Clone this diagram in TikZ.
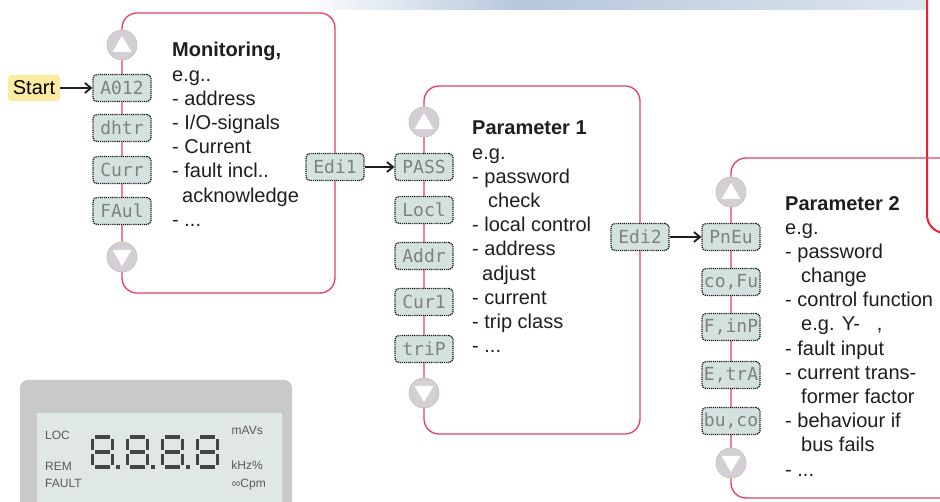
\documentclass[tikz,border=0pt]{standalone}
\usepackage{fontspec}
\setmainfont{Liberation Sans}
\newfontfamily\segfont{DejaVu Sans Mono}
\usetikzlibrary{arrows.meta,calc}

\definecolor{framered}{HTML}{E3415F}
\definecolor{boxred}{HTML}{E52630}
\definecolor{dispfill}{HTML}{D3E2DF}
\definecolor{btnfill}{HTML}{D3CFD4}
\definecolor{startfill}{HTML}{FBECA2}
\definecolor{lcdgray}{HTML}{C9C9C9}
\definecolor{lcdfill}{HTML}{DFE8E4}
\definecolor{txt}{HTML}{1E1E1E}
\definecolor{band}{HTML}{B5C7DC}
\definecolor{segcol}{HTML}{454545}

\begin{document}
\begin{tikzpicture}[x=1pt,y=-1pt,
  frame/.style={framered,line width=1.3pt,rounded corners=15pt},
  disp/.style={draw=black!90,dash pattern=on 1.2pt off 0.9pt,line width=1.3pt,fill=dispfill,
    rounded corners=4pt,minimum width=58pt,minimum height=27pt,inner sep=0pt,
    font=\segfont\fontsize{18}{18}\selectfont,text=black!50},
  btn/.style={circle,draw=black!25,line width=0.6pt,fill=btnfill,
    minimum size=30pt,inner sep=0pt},
  startbox/.style={fill=startfill,rounded corners=3pt,minimum width=52pt,
    minimum height=26pt,inner sep=0pt,font=\fontsize{20}{20}\selectfont},
  arr/.style={draw=txt,line width=1.8pt,-{Straight Barb[length=6pt,width=10pt]}},
  desc/.style={anchor=base west,align=left,inner sep=0pt,text=txt,
    font=\fontsize{20}{24.2}\selectfont},
  lcdtxt/.style={inner sep=0pt,text=black!65,font=\fontsize{12}{12}\selectfont},
  seg/.style={segcol,line width=3.5pt}]
  \useasboundingbox (0,0) rectangle (940,502);
  \clip (0,0) rectangle (940,502);

  % background band and frames
  \shade[left color=white,right color=band] (300,0) rectangle (520,10);
  \shade[left color=band,right color=band!45] (520,0) rectangle (927,10);
  \draw[boxred,line width=2pt,rounded corners=18pt] (927,-30) rectangle (990,233);

  \draw[frame] (122,13) rectangle (335,293);
  \draw[frame] (424,86) rectangle (640,434);
  \draw[frame] (731,158) rectangle (990,498);

  % monitoring (text nodes sit on their last baseline)
  \node[btn] (mu) at (122,45) {};
  \foreach[count=\i] \t/\y in {A012/88,dhtr/128,Curr/170,FAul/211}
    \node[disp] (m\i) at (122,\y) {\t};
  \node[btn] (md) at (122,257) {};
  \node[startbox] (start) at (34,88) {Start};
  \draw[arr] (start) -- (m1);
  \node[desc] (mtxt) at (172,226.4) {\textbf{Monitoring,}\\e.g..\\- address\\- I/O-signals\\
    - Current\\- fault incl..\\\hspace*{10pt}acknowledge\\- ...};

  % parameter 1
  \node[btn] (pu) at (424,122) {};
  \foreach[count=\i] \t/\y in {PASS/167,Locl/210,Addr/256,Cur1/302,triP/349}
    \node[disp] (p\i) at (424,\y) {\t};
  \node[btn] (pd) at (424,393) {};
  \node[disp] (e1) at (335,167) {Edi1};
  \draw[arr] (e1) -- (p1);
  \node[desc] (ptxt) at (472,352.8) {\textbf{Parameter 1}\\e.g.\\- password\\\hspace*{16pt}check\\
    - local control\\- address\\\hspace*{10pt}adjust\\- current\\- trip class\\- ...};

  % parameter 2
  \node[btn] (qu) at (731,192) {};
  \foreach[count=\i] \t/\y in {PnEu/237,co{,}Fu/282,F{,}inP/327,E{,}trA/375,bu{,}co/421}
    \node[disp] (q\i) at (731,\y) {\t};
  \node[btn] (qd) at (731,463) {};
  \node[disp] (e2) at (640,237) {Edi2};
  \draw[arr] (e2) -- (q1);
  \node[desc] (qtxt) at (785,476.2) {\textbf{Parameter 2}\\e.g.\\- password\\\hspace*{16pt}change\\
    - control function\\\hspace*{16pt}e.g. Y-~~~,\\- fault input\\- current trans-\\
    \hspace*{16pt}former factor\\- behaviour if\\\hspace*{16pt}bus fails\\- ...};

  % arrow marks on the buttons
  \foreach \b in {mu,pu,qu}
    \fill[white] ([yshift=9pt]\b.center) -- ([shift={(-9.5pt,-7pt)}]\b.center)
      -- ([shift={(9.5pt,-7pt)}]\b.center) -- cycle;
  \foreach \b in {md,pd,qd}
    \fill[white] ([yshift=-9pt]\b.center) -- ([shift={(-9.5pt,7pt)}]\b.center)
      -- ([shift={(9.5pt,7pt)}]\b.center) -- cycle;

  % display panel
  \fill[lcdgray,rounded corners=8pt] (20,380) rectangle (292,530);
  \fill[lcdfill] (37,413) rectangle (282,530);
  \node[lcdtxt,anchor=base west] (loc) at (45,439) {LOC};
  \node[lcdtxt,anchor=base west] (rem) at (45,470) {REM};
  \node[lcdtxt,anchor=base west] (flt) at (45,487) {FAULT};
  \node[lcdtxt,anchor=base east] (unit1) at (263,435) {mAVs};
  \node[lcdtxt,anchor=base east] (unit2) at (263,469) {kHz\%};
  \node[lcdtxt,anchor=base east] (unit3) at (266,487) {∞Cpm};
  \foreach \dx in {91,126,161,196} {
    \draw[seg] ({\dx+4},437) -- ({\dx+19},437);
    \draw[seg] ({\dx+4},452) -- ({\dx+19},452);
    \draw[seg] ({\dx+4},467) -- ({\dx+19},467);
    \draw[seg] ({\dx+1.5},439) -- ({\dx+1.5},450);
    \draw[seg] ({\dx+1.5},454) -- ({\dx+1.5},465);
    \draw[seg] ({\dx+21.5},439) -- ({\dx+21.5},450);
    \draw[seg] ({\dx+21.5},454) -- ({\dx+21.5},465);
  }
  \foreach \dx in {118,153,188}
    \fill[segcol] ({\dx-1.8},{465.2}) rectangle ({\dx+1.8},{468.8});
\end{tikzpicture}
\end{document}
